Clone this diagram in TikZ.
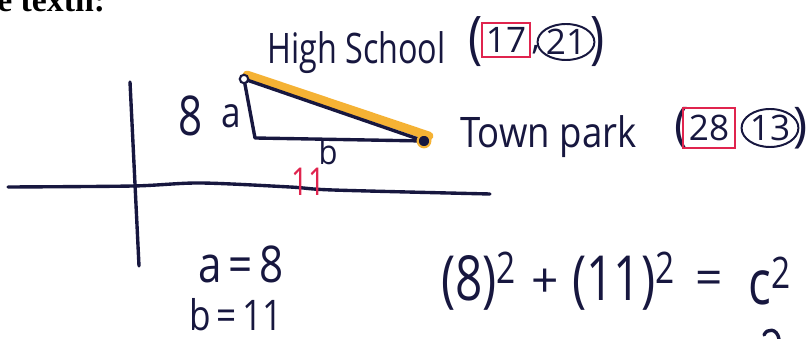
\documentclass[tikz,border=0pt]{standalone}
\usepackage{graphicx}
\usepackage{fontspec}
\setmainfont{Open Sans}
\newfontfamily\headfont{Liberation Serif}
\usetikzlibrary{positioning,calc,shapes.geometric}
\definecolor{ink}{HTML}{17173F}
\definecolor{hl}{HTML}{F5B234}
\definecolor{redpen}{HTML}{E0244E}
\newcommand\hw[2][1.3]{\scalebox{1}[#1]{#2}}
\tikzset{
  pen/.style={draw=ink,line width=2.4pt,line cap=round,line join=round},
  hand/.style={text=ink,inner sep=0pt,font=\fontsize{25}{27}\selectfont},
  big/.style={text=ink,inner sep=0pt,font=\fontsize{34}{36}\selectfont},
  rbox/.style={draw=redpen,line width=1.3pt,inner sep=0pt,text=ink,font=\fontsize{25}{27}\selectfont},
  cbox/.style={ellipse,draw=ink,line width=1.4pt,inner sep=0pt,text=ink,font=\fontsize{25}{27}\selectfont},
  odot/.style={circle,draw=ink,line width=1.5pt,fill=white,inner sep=0pt,minimum size=6pt},
  fdot/.style={circle,draw=hl,line width=1.5pt,fill=ink,inner sep=0pt,minimum size=9pt},
}
\begin{document}
\begin{tikzpicture}[x=0.025cm,y=-0.025cm]
\useasboundingbox (0,0) rectangle (812,339);
\clip (0,0) rectangle (812,339);
\fill[white] (0,0) rectangle (812,339);
% cut-off line of the page above
\node[anchor=base west,inner sep=0pt,font=\headfont\bfseries\fontsize{24}{26}\selectfont] (head) at (-3,12) {e textn:};
% axes
\coordinate (yt) at (130,82); \coordinate (yb) at (139,266);
\draw[pen] (yt) -- (yb);
\draw[pen] plot[smooth,tension=0.5] coordinates {(8,187) (133,186) (200,183) (290,187) (333,190) (490,194)};
% triangle
\coordinate (hs) at (244,79); \coordinate (ra) at (255,138); \coordinate (tp) at (424,141);
\draw[hl,line width=0.22cm,line cap=round] ($(hs)+(3,-4)$) -- ($(tp)+(5,-5)$);
\draw[pen] (hs) -- (ra) -- (tp) -- cycle;
\node[odot] (hsd) at (hs) {};
\node[fdot] (tpd) at (tp) {};
\node[hand,font=\fontsize{30}{32}\selectfont] (eight) at (191,116) {\hw{8}};
\node[hand] (a) at (231,116) {\hw[1.2]{a}};
\node[hand,font=\fontsize{22}{24}\selectfont] (b) at (328,152) {\hw[1.1]{b}};
\node[hand,text=redpen,font=\fontsize{21}{23}\selectfont] (eleven) at (308,182) {\hw[1.3]{11}};
% points
\node[hand,font=\fontsize{23}{25}\selectfont,anchor=base west] (hsl) at (267,64) {\hw{High School}};
\node[big] (p1) at (476,42) {\hw[1.2]{(}};
\node[rbox,minimum width=1.2cm,minimum height=0.85cm] (x1) at (506,40) {17};
\node[hand] (c1) at (536,50) {,};
\node[cbox,minimum width=1.15cm,minimum height=0.75cm] (y1) at (566,42) {21};
\node[big] (p2) at (598,42) {\hw[1.2]{)}};
\node[hand,font=\fontsize{26}{28}\selectfont,anchor=base west] (tpl) at (460,148) {\hw[1.15]{Town park}};
\node[big] (p3) at (682,128) {(};
\node[rbox,minimum width=1.3cm,minimum height=1cm] (x2) at (709,128) {28};
\node[cbox,minimum width=1.35cm,minimum height=0.95cm] (y2) at (770,128) {13};
\node[big] (p4) at (801,128) {)};
% working
\node[hand,font=\fontsize{30}{32}\selectfont,anchor=west] (av) at (198,264) {\hw[1.2]{a\,=\,8}};
\node[hand,font=\fontsize{25}{27}\selectfont,anchor=west] (bv) at (189,315) {\hw[1.2]{b\,=\,11}};
\node[big,anchor=west] (eq1) at (441,281) {\hw{(8)\textsuperscript{2}}};
\node[big] (eq2) at (545,283) {+};
\node[big,anchor=west] (eq3) at (572,281) {\hw{(11)\textsuperscript{2}}};
\node[big] (eq4) at (709,283) {=};
\node[big,anchor=west] (eq5) at (748,281) {\hw{c\textsuperscript{2}}};
\draw[pen] (764,335) .. controls (767,328) and (777,328) .. (779,339);
\end{tikzpicture}
\end{document}
